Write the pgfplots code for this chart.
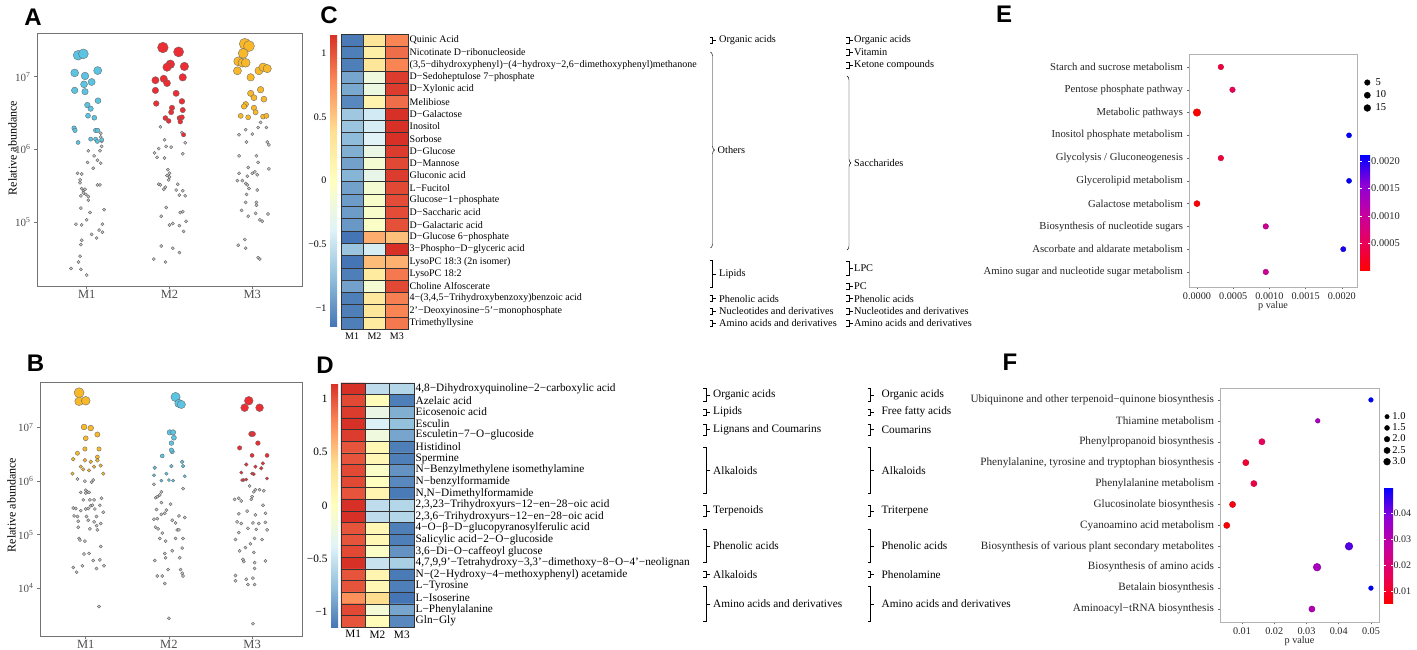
\documentclass[border=0pt]{standalone}
\usepackage{fontspec}
\setmainfont{Liberation Serif}
\newfontfamily\panelfont{Liberation Sans}
\usepackage{pgfplots}
\pgfplotsset{compat=1.18}
\usetikzlibrary{decorations.pathreplacing}

\definecolor{cyanA}{RGB}{90,196,226}
\definecolor{redA}{RGB}{236,45,52}
\definecolor{orgA}{RGB}{249,184,42}
\definecolor{greyP}{RGB}{198,198,198}
\definecolor{txtg}{RGB}{77,77,77}

\newcommand{\lab}{\fontsize{10}{12}\selectfont}
\newcommand{\labD}{\fontsize{11.3}{12}\selectfont}
\def\lgap{6}
\def\gfont{\lab}
\newcommand{\sq}[4]{%
  \draw[line width=0.45pt] (#1-3,#2) -- (#1,#2) -- (#1,#3) -- (#1-3,#3);
  \draw[line width=0.45pt] (#1,{(#2+#3)/2}) -- (#1+3.5,{(#2+#3)/2});
  \node[anchor=west,inner sep=0pt,font=\gfont] at (#1+\lgap,{(#2+#3)/2}) {#4};}
\newcommand{\cb}[4]{%
  \draw[line width=0.45pt,decorate,decoration={brace,amplitude=4pt}] (#1-2,#2) -- (#1-2,#3);
  \node[anchor=west,inner sep=0pt,font=\gfont] at (#1+5,{(#2+#3)/2}) {#4};}

\pgfplotsset{
  colorbar shift/.style={},
  colormap={rb}{rgb255=(255,0,0) rgb255=(232,0,92) rgb255=(196,0,162) rgb255=(140,0,216) rgb255=(0,0,255)},
  colormap={rdylbu}{rgb255=(69,117,180) rgb255=(145,191,219) rgb255=(224,243,248) rgb255=(255,255,191) rgb255=(254,224,144) rgb255=(252,141,89) rgb255=(215,48,39)},
  abund/.style={scale only axis, xmin=0.4, xmax=3.6, xtick={1,2,3}, xticklabels={M1,M2,M3},
    axis line style={draw=black!55, line width=0.6pt}, tick style={draw=black!55, line width=0.5pt},
    tick align=outside, major tick length=3pt, xtick pos=left, ytick pos=left,
    yticklabel style={font=\fontsize{11}{12}\selectfont, text=txtg},
    xticklabel style={font=\fontsize{12.5}{13}\selectfont, text=txtg, inner sep=1.5pt},
    ylabel={Relative abundance}, ylabel style={font=\fontsize{12}{13}\selectfont, anchor=center}},
  greypt/.style={only marks, mark=*, mark size=1.6pt, mark options={fill=greyP, draw=black!65, line width=0.35pt}},
  colpt/.style 2 args={only marks, scatter, mark=*, point meta=y,
    visualization depends on={\thisrow{y}\as\rawy},
    scatter/use mapped color={draw=black!60, fill=#1},
    mark options={line width=0.35pt},
    scatter/@pre marker code/.append style={/tikz/mark size={#2}}},
  heat/.style={scale only axis, xmin=0.5, xmax=3.5, y dir=reverse,
    colormap name=rdylbu, point meta min=-1.15, point meta max=1.15,
    xtick={0.5,1.5,2.5,3.5}, xticklabels={}, yticklabels={},
    grid=major, major grid style={draw=black!80, line width=0.4pt},
    axis line style={draw=black!80, line width=0.4pt}, tick style={draw=none}, major tick length=0pt,
    axis on top, extra x ticks={1,2,3}, extra x tick labels={M1,M2,M3}, extra x tick style={grid=none},
    extra y tick style={grid=none}, yticklabel pos=right,
    ticklabel style={font=\lab}, yticklabel style={inner sep=1.5pt}, clip=false},
  pathw/.style={scale only axis, y dir=reverse, tick align=outside, major tick length=2.5pt,
    xtick pos=left, ytick pos=left, axis line style={draw=black!30, line width=0.6pt},
    tick style={draw=black!60, line width=0.4pt},
    xticklabel style={font=\fontsize{10.2}{12}\selectfont, text=black!85},
    xlabel={p value}, xlabel style={font=\fontsize{10.2}{12}\selectfont, text=black!85, yshift=5pt},
    scaled x ticks=false, colormap name=rb, legend cell align=left},
}

\begin{document}
\begin{tikzpicture}
\path[use as bounding box] (0,0) rectangle (1417pt,650pt);

% ---------------- Panel A ----------------
\begin{axis}[abund, width=265pt, height=253pt, at={(37pt,364pt)}, anchor=south west,
  ymin=4.12, ymax=7.60, ytick={5,6,7},
  yticklabels={10\textsuperscript{5},10\textsuperscript{6},10\textsuperscript{7}},
  ylabel style={at={(axis description cs:-0.092,0.545)}}]
\addplot[greypt] table[row sep=\\]{x y\\
1.17 6.22\\1.17 6.17\\1.18 6.11\\1.18 6.04\\1.02 5.98\\1.16 5.98\\1.09 5.91\\1.01 5.82\\1.13 5.85\\1.17 5.81\\1.08 5.74\\0.89 5.67\\0.94 5.66\\0.92 5.58\\0.92 5.54\\1.13 5.51\\1.16 5.51\\0.94 5.46\\0.96 5.43\\0.98 5.45\\0.96 5.40\\0.93 5.36\\0.99 5.38\\1.02 5.35\\1.02 5.30\\0.93 5.19\\1.21 5.17\\1.04 5.13\\0.87 4.97\\1.00 5.03\\0.94 4.96\\1.19 4.97\\1.15 4.89\\1.06 4.83\\1.19 4.86\\1.12 4.78\\0.94 4.75\\0.93 4.69\\0.92 4.53\\0.90 4.45\\0.81 4.36\\0.93 4.35\\1.00 4.27\\
1.89 6.31\\2.15 6.23\\1.94 6.13\\1.87 6.01\\1.96 6.04\\2.02 6.03\\2.19 6.09\\1.82 5.95\\1.85 5.89\\1.94 5.88\\2.16 5.94\\1.98 5.72\\2.00 5.67\\1.97 5.64\\2.00 5.62\\1.87 5.52\\1.89 5.51\\1.99 5.58\\1.95 5.48\\1.93 5.45\\2.10 5.52\\2.08 5.44\\2.16 5.43\\2.12 5.37\\2.19 5.36\\1.96 5.20\\2.13 5.13\\2.16 5.14\\1.90 5.08\\2.04 4.98\\2.00 4.96\\2.20 5.01\\2.12 4.95\\2.17 4.87\\1.90 4.67\\2.04 4.64\\2.12 4.58\\1.81 4.49\\1.95 4.45\\
3.10 6.37\\2.92 6.27\\3.07 6.30\\3.17 6.30\\2.84 6.20\\3.00 6.21\\2.93 6.10\\3.18 6.10\\3.20 6.06\\2.84 5.91\\3.05 5.91\\3.07 5.82\\2.95 5.75\\3.20 5.73\\2.84 5.67\\2.94 5.63\\3.03 5.69\\3.00 5.67\\3.06 5.65\\2.82 5.57\\2.92 5.53\\2.94 5.51\\2.88 5.57\\2.96 5.46\\3.06 5.44\\2.93 5.38\\2.92 5.27\\3.05 5.27\\3.05 5.23\\2.87 5.16\\3.04 5.12\\2.95 5.08\\3.19 5.11\\3.09 5.03\\3.12 5.01\\2.83 4.68\\2.91 4.76\\2.92 4.64\\3.07 4.51\\3.09 4.49\\};
\addplot[colpt={cyanA}{1.1+0.85*10^(\rawy/2-3)}] table[row sep=\\]{x y\\
0.896 7.294\\0.960 7.313\\0.855 7.051\\0.980 7.009\\1.133 7.083\\0.968 6.894\\1.060 6.926\\0.855 6.811\\0.980 6.793\\1.137 6.669\\1.008 6.609\\1.048 6.559\\1.016 6.462\\1.092 6.434\\0.847 6.292\\0.859 6.260\\1.108 6.260\\1.133 6.260\\0.896 6.094\\1.048 6.140\\1.108 6.140\\1.129 6.108\\1.181 6.131\\};
\addplot[colpt={redA}{1.1+0.85*10^(\rawy/2-3)}] table[row sep=\\]{x y\\
1.92 7.40\\2.11 7.34\\2.01 7.17\\1.97 7.13\\2.18 7.14\\1.83 6.95\\1.93 6.97\\1.97 6.91\\2.16 6.99\\1.83 6.81\\2.08 6.77\\1.84 6.63\\2.15 6.66\\2.03 6.57\\2.02 6.51\\2.16 6.54\\1.95 6.43\\1.99 6.39\\2.12 6.43\\2.15 6.44\\2.13 6.38\\2.17 6.20\\};
\addplot[colpt={orgA}{1.1+0.85*10^(\rawy/2-3)}] table[row sep=\\]{x y\\
2.91 7.45\\2.96 7.42\\2.89 7.32\\2.83 7.21\\2.88 7.19\\2.92 7.19\\2.82 7.08\\3.08 7.08\\3.13 7.13\\3.18 7.11\\2.98 6.99\\3.10 6.82\\2.98 6.77\\3.02 6.71\\3.14 6.69\\2.92 6.62\\2.90 6.59\\3.02 6.57\\3.04 6.51\\2.86 6.46\\2.95 6.44\\3.13 6.45\\3.17 6.46\\};
\end{axis}

% ---------------- Panel B ----------------
\begin{axis}[abund, width=262pt, height=254pt, at={(40pt,14pt)}, anchor=south west,
  xmin=0.45, ymin=3.11, ymax=7.85, ytick={4,5,6,7},
  yticklabels={10\textsuperscript{4},10\textsuperscript{5},10\textsuperscript{6},10\textsuperscript{7}},
  ylabel style={at={(axis description cs:-0.109,0.516)}}]
\addplot[greypt] table[row sep=\\]{x y\\
0.90 6.04\\0.99 6.00\\1.07 5.98\\1.09 6.02\\0.94 5.79\\1.00 5.83\\1.02 5.80\\1.04 5.79\\1.00 5.78\\0.97 5.65\\1.05 5.65\\1.10 5.65\\1.19 5.68\\1.17 5.55\\0.85 5.50\\0.88 5.49\\0.94 5.45\\1.00 5.48\\1.03 5.49\\1.06 5.54\\1.08 5.55\\1.11 5.48\\1.21 5.42\\0.86 5.35\\0.90 5.34\\0.91 5.25\\1.01 5.34\\1.03 5.27\\1.10 5.24\\1.13 5.34\\1.18 5.21\\0.91 5.14\\1.05 5.11\\1.13 5.17\\1.14 5.09\\0.92 4.93\\0.93 4.90\\0.99 4.88\\1.18 4.78\\0.98 4.64\\1.04 4.65\\1.09 4.52\\1.17 4.53\\0.85 4.39\\0.89 4.30\\0.96 4.42\\1.13 4.37\\1.22 4.42\\1.16 3.66\\
1.82 5.94\\2.17 5.86\\1.91 5.80\\1.89 5.74\\1.84 5.69\\1.86 5.71\\1.91 5.60\\2.02 5.57\\1.85 5.47\\1.97 5.46\\1.91 5.38\\1.95 5.40\\2.12 5.35\\2.04 5.27\\1.82 5.29\\1.86 5.30\\2.19 5.32\\2.08 5.22\\1.84 5.14\\1.87 5.11\\2.10 5.09\\2.12 5.09\\1.92 5.03\\1.89 4.93\\2.08 4.93\\1.96 4.88\\2.17 4.93\\1.95 4.65\\2.04 4.70\\2.16 4.75\\1.96 4.57\\2.13 4.57\\1.83 4.52\\1.99 4.35\\1.86 4.23\\1.92 4.23\\2.14 4.35\\2.16 4.28\\2.17 4.23\\1.95 4.09\\2.00 3.44\\
2.97 5.91\\3.09 5.84\\3.14 5.82\\3.02 5.80\\3.04 5.84\\2.79 5.66\\2.84 5.68\\2.87 5.63\\2.99 5.66\\3.00 5.71\\3.13 5.55\\2.84 5.39\\2.94 5.44\\3.04 5.37\\3.16 5.40\\2.82 5.24\\2.87 5.21\\3.01 5.22\\3.08 5.21\\3.16 5.23\\2.95 5.12\\3.05 5.10\\3.18 5.09\\2.84 5.04\\3.03 4.93\\2.80 4.91\\3.12 4.91\\2.92 4.76\\2.85 4.70\\2.98 4.83\\3.02 4.67\\2.89 4.54\\2.90 4.50\\3.03 4.48\\3.16 4.51\\3.03 4.37\\2.80 4.24\\2.80 4.14\\2.93 4.17\\3.01 4.19\\2.95 4.07\\3.03 4.07\\3.01 3.34\\};
\addplot[colpt={orgA}{1.0+0.6*10^(\rawy/2-3)}] table[row sep=\\]{x y\\
0.92 7.65\\0.92 7.49\\1.00 7.50\\0.98 7.01\\1.06 6.99\\1.00 6.80\\1.14 6.87\\0.90 6.52\\0.99 6.60\\1.16 6.60\\0.85 6.41\\0.99 6.39\\1.14 6.45\\1.14 6.39\\1.06 6.36\\0.94 6.27\\0.97 6.22\\1.10 6.27\\1.18 6.29\\0.84 6.14\\1.04 6.20\\1.21 6.14\\};
\addplot[colpt={cyanA}{1.0+0.6*10^(\rawy/2-3)}] table[row sep=\\]{x y\\
2.08 7.57\\2.12 7.45\\2.15 7.43\\2.01 6.91\\2.05 6.91\\2.06 6.81\\2.03 6.71\\1.92 6.47\\2.04 6.55\\2.03 6.58\\1.83 6.25\\2.03 6.28\\2.16 6.36\\2.17 6.28\\1.82 6.11\\1.97 6.14\\1.91 6.01\\2.00 6.02\\2.05 6.01\\2.19 6.09\\};
\addplot[colpt={redA}{1.0+0.6*10^(\rawy/2-3)}] table[row sep=\\]{x y\\
2.96 7.50\\2.91 7.37\\3.09 7.37\\2.99 6.88\\3.01 6.88\\3.07 6.71\\2.85 6.62\\3.00 6.48\\3.18 6.48\\2.93 6.31\\3.04 6.27\\3.13 6.33\\2.87 6.16\\3.00 6.14\\3.02 6.13\\2.90 6.02\\2.93 6.03\\2.88 6.02\\3.11 6.24\\3.18 6.05\\};
\end{axis}

% ---------------- Panel C heatmap ----------------
\begin{axis}[heat, width=67pt, height=295.3pt, at={(341pt,320.7pt)}, anchor=south west,
  ymin=0.5, ymax=24.5, ytick={0.5,1.5,...,24.5},
  extra y ticks={1,...,24},
  extra y tick labels={{Quinic Acid},{Nicotinate D−ribonucleoside},{(3,5−dihydroxyphenyl)−(4−hydroxy−2,6−dimethoxyphenyl)methanone},{D−Sedoheptulose 7−phosphate},{D−Xylonic acid},{Melibiose},{D−Galactose},{Inositol},{Sorbose},{D−Glucose},{D−Mannose},{Gluconic acid},{L−Fucitol},{Glucose−1−phosphate},{D−Saccharic acid},{D−Galactaric acid},{D−Glucose 6−phosphate},{3−Phospho−D−glyceric acid},{LysoPC 18:3 (2n isomer)},{LysoPC 18:2},{Choline Alfoscerate},{4−(3,4,5−Trihydroxybenzoxy)benzoic acid},{2'−Deoxyinosine−5'−monophosphate},{Trimethyllysine}},
  colorbar, colorbar style={at={(parent axis.north west)}, anchor=north east, xshift=-4pt,
    scale only axis, width=7pt, height=293pt, ytick={-1,-0.5,0,0.5,1},
    yticklabels={−1,−0.5,0,0.5,1}, yticklabel pos=left, axis line style={draw=none},
    tick style={draw=none}, yticklabel style={font=\lab}}]
\addplot[matrix plot*, mesh/cols=3, point meta=explicit] table[row sep=\\, meta=c]{x y c\\
1 1 -1.12\\2 1 0.32\\3 1 0.80\\
1 2 -1.10\\2 2 0.20\\3 2 0.90\\
1 3 -1.10\\2 3 0.30\\3 3 0.80\\
1 4 -0.90\\2 4 -0.20\\3 4 1.10\\
1 5 -0.88\\2 5 -0.22\\3 5 1.10\\
1 6 -1.05\\2 6 0.15\\3 6 0.90\\
1 7 -0.70\\2 7 -0.45\\3 7 1.15\\
1 8 -0.72\\2 8 -0.43\\3 8 1.15\\
1 9 -0.78\\2 9 -0.37\\3 9 1.15\\
1 10 -0.85\\2 10 -0.25\\3 10 1.10\\
1 11 -0.92\\2 11 -0.13\\3 11 1.05\\
1 12 -0.82\\2 12 -0.28\\3 12 1.10\\
1 13 -0.92\\2 13 -0.13\\3 13 1.05\\
1 14 -0.95\\2 14 -0.08\\3 14 1.03\\
1 15 -0.95\\2 15 -0.08\\3 15 1.03\\
1 16 -0.97\\2 16 -0.05\\3 16 1.02\\
1 17 -1.15\\2 17 0.62\\3 17 0.53\\
1 18 -0.72\\2 18 -0.43\\3 18 1.15\\
1 19 -1.15\\2 19 0.55\\3 19 0.60\\
1 20 -1.10\\2 20 0.25\\3 20 0.85\\
1 21 -0.92\\2 21 -0.13\\3 21 1.05\\
1 22 -1.10\\2 22 0.28\\3 22 0.82\\
1 23 -1.10\\2 23 0.30\\3 23 0.80\\
1 24 -1.10\\2 24 0.25\\3 24 0.85\\};
\end{axis}

% ---------------- Panel D heatmap ----------------
\begin{axis}[heat, width=73pt, height=244pt, at={(341pt,23pt)}, anchor=south west,
  ymin=0.5, ymax=21.5, ytick={0.5,1.5,...,21.5},
  ticklabel style={font=\labD},
  extra y ticks={1,...,21},
  extra y tick labels={{4,8−Dihydroxyquinoline−2−carboxylic acid},{Azelaic acid},{Eicosenoic acid},{Esculin},{Esculetin−7−O−glucoside},{Histidinol},{Spermine},{N−Benzylmethylene isomethylamine},{N−benzylformamide},{N,N−Dimethylformamide},{2,3,23−Trihydroxyurs−12−en−28−oic acid},{2,3,6−Trihydroxyurs−12−en−28−oic acid},{4−O−β−D−glucopyranosylferulic acid},{Salicylic acid−2−O−glucoside},{3,6−Di−O−caffeoyl glucose},{4,7,9,9'−Tetrahydroxy−3,3'−dimethoxy−8−O−4'−neolignan},{N−(2−Hydroxy−4−methoxyphenyl) acetamide},{L−Tyrosine},{L−Isoserine},{L−Phenylalanine},{Gln−Gly}},
  colorbar, colorbar style={at={(parent axis.north west)}, anchor=north east, xshift=-3pt,
    scale only axis, width=7pt, height=245pt, ytick={-1,-0.5,0,0.5,1},
    yticklabels={−1,−0.5,0,0.5,1}, yticklabel pos=left, axis line style={draw=none},
    tick style={draw=none}, yticklabel style={font=\labD}}]
\addplot[matrix plot*, mesh/cols=3, point meta=explicit] table[row sep=\\, meta=c]{x y c\\
1 1 1.15\\2 1 -0.55\\3 1 -0.60\\
1 2 1.05\\2 2 0.05\\3 2 -1.10\\
1 3 1.10\\2 3 -0.25\\3 3 -0.85\\
1 4 1.15\\2 4 -0.40\\3 4 -0.75\\
1 5 1.10\\2 5 -0.20\\3 5 -0.90\\
1 6 1.00\\2 6 0.10\\3 6 -1.10\\
1 7 1.00\\2 7 0.10\\3 7 -1.10\\
1 8 1.05\\2 8 -0.05\\3 8 -1.00\\
1 9 1.05\\2 9 0.00\\3 9 -1.05\\
1 10 1.00\\2 10 0.12\\3 10 -1.12\\
1 11 1.15\\2 11 -0.55\\3 11 -0.60\\
1 12 1.15\\2 12 -0.55\\3 12 -0.60\\
1 13 1.00\\2 13 0.10\\3 13 -1.10\\
1 14 1.00\\2 14 0.10\\3 14 -1.10\\
1 15 1.05\\2 15 -0.05\\3 15 -1.00\\
1 16 1.15\\2 16 -0.50\\3 16 -0.65\\
1 17 1.00\\2 17 0.12\\3 17 -1.12\\
1 18 1.00\\2 18 0.10\\3 18 -1.10\\
1 19 0.75\\2 19 0.40\\3 19 -1.15\\
1 20 1.05\\2 20 -0.15\\3 20 -0.90\\
1 21 1.00\\2 21 0.05\\3 21 -1.05\\};
\end{axis}

% ---------------- Panel E ----------------
\begin{axis}[pathw, width=168pt, height=233pt, at={(1189pt,363pt)}, anchor=south west,
  xmin=-0.00011, xmax=0.00221, ymin=0.43, ymax=10.66,
  yticklabel style={font=\fontsize{10.7}{12}\selectfont, text=black!85},
  ytick={1,...,10},
  yticklabels={{Starch and sucrose metabolism},{Pentose phosphate pathway},{Metabolic pathways},{Inositol phosphate metabolism},{Glycolysis / Gluconeogenesis},{Glycerolipid metabolism},{Galactose metabolism},{Biosynthesis of nucleotide sugars},{Ascorbate and aldarate metabolism},{Amino sugar and nucleotide sugar metabolism}},
  xtick={0,0.0005,0.001,0.0015,0.002}, xticklabels={0.0000,0.0005,0.0010,0.0015,0.0020},
  point meta min=0, point meta max=0.00211,
  legend style={draw=none, fill=none, at={(1.040,0.905)}, anchor=north west,
    font=\fontsize{10.5}{10}\selectfont, inner sep=0pt, row sep=0.3pt},
  colorbar, colorbar style={at={(parent axis.south east)}, anchor=south west, xshift=3pt, yshift=16pt,
    scale only axis, width=10pt, height=116pt, ytick={0.0005,0.001,0.0015,0.002},
    yticklabels={0.0005,0.0010,0.0015,0.0020}, scaled y ticks=false, axis line style={draw=none},
    tick style={draw=white, line width=0.7pt}, major tick length=2pt,
    yticklabel style={font=\fontsize{10.4}{12}\selectfont, text=black!85, inner sep=1pt}}]
\addplot[scatter, only marks, mark=*, point meta=x, forget plot,
  visualization depends on={\thisrow{n}\as\nn},
  scatter/@pre marker code/.append style={/tikz/mark size={2.4+0.08*\nn}}]
  table[row sep=\\, x=p, y=y]{p y n\\
0.00033 1 5\\0.00049 2 5\\0.00000 3 17\\0.00210 4 2\\0.00033 5 5\\0.00210 6 2\\0.00000 7 8\\0.00095 8 5\\0.00202 9 3\\0.00095 10 5\\};
\addlegendimage{only marks, mark=*, mark size=2.8pt, black}\addlegendentry{\hspace{3pt}5}
\addlegendimage{only marks, mark=*, mark size=3.1pt, black}\addlegendentry{\hspace{3pt}10}
\addlegendimage{only marks, mark=*, mark size=3.4pt, black}\addlegendentry{\hspace{3pt}15}
\end{axis}

% ---------------- Panel F ----------------
\begin{axis}[pathw, width=159pt, height=234pt, at={(1220pt,28pt)}, anchor=south west,
  xmin=0.0032, xmax=0.0525, ymin=0.43, ymax=11.62,
  yticklabel style={font=\fontsize{11.2}{12}\selectfont, text=black!85},
  ytick={1,...,11},
  yticklabels={{Ubiquinone and other terpenoid−quinone biosynthesis},{Thiamine metabolism},{Phenylpropanoid biosynthesis},{Phenylalanine, tyrosine and tryptophan biosynthesis},{Phenylalanine metabolism},{Glucosinolate biosynthesis},{Cyanoamino acid metabolism},{Biosynthesis of various plant secondary metabolites},{Biosynthesis of amino acids},{Betalain biosynthesis},{Aminoacyl−tRNA biosynthesis}},
  xtick={0.01,0.02,0.03,0.04,0.05}, xticklabels={0.01,0.02,0.03,0.04,0.05},
  point meta min=0.0053, point meta max=0.0499,
  legend style={draw=none, fill=none, at={(1.028,0.905)}, anchor=north west,
    font=\fontsize{10.5}{10}\selectfont, inner sep=0pt, row sep=-1.2pt},
  colorbar, colorbar style={at={(parent axis.south east)}, anchor=south west, xshift=5pt, yshift=18pt,
    scale only axis, width=9pt, height=117pt, ytick={0.01,0.02,0.03,0.04},
    yticklabels={0.01,0.02,0.03,0.04}, scaled y ticks=false, axis line style={draw=none},
    tick style={draw=white, line width=0.7pt}, major tick length=2pt,
    yticklabel style={font=\fontsize{10}{12}\selectfont, text=black!85, inner sep=0.5pt}}]
\addplot[scatter, only marks, mark=*, point meta=x, forget plot,
  visualization depends on={\thisrow{n}\as\nn},
  scatter/@pre marker code/.append style={/tikz/mark size={1.6+0.75*\nn}}]
  table[row sep=\\, x=p, y=y]{p y n\\
0.0500 1 1\\0.0335 2 1\\0.0162 3 2\\0.0112 4 2\\0.0137 5 2\\0.0071 6 2\\0.0053 7 2\\0.0432 8 3\\0.0333 9 3\\0.0500 10 1\\0.0317 11 2\\};
\addlegendimage{only marks, mark=*, mark size=2.2pt, black}\addlegendentry{1.0}
\addlegendimage{only marks, mark=*, mark size=2.5pt, black}\addlegendentry{1.5}
\addlegendimage{only marks, mark=*, mark size=2.8pt, black}\addlegendentry{2.0}
\addlegendimage{only marks, mark=*, mark size=3.1pt, black}\addlegendentry{2.5}
\addlegendimage{only marks, mark=*, mark size=3.4pt, black}\addlegendentry{3.0}
\end{axis}

% ---------------- annotations in pixel coordinates ----------------
\begin{scope}[x=1pt,y=-1pt,yshift=650pt]
\tikzset{pl/.style={font=\panelfont\bfseries\fontsize{24}{24}\selectfont, inner sep=0pt}}
\node[pl] at (33,17) {A};
\node[pl] at (35.5,363) {B};
\node[pl] at (329,15) {C};
\node[pl] at (325,365) {D};
\node[pl] at (1004,14) {E};
\node[pl] at (1010,362) {F};
% C group columns
\def\gfont{\fontsize{10.3}{12}\selectfont}
\def\lgap{6.5}
\sq{712.5}{37}{43.2}{Organic acids}
\cb{712.5}{52}{248}{Others}
\sq{712.5}{260.5}{287}{Lipids}
\sq{712.5}{295.5}{301.5}{Phenolic acids}
\sq{712.5}{307.8}{313.8}{Nucleotides and derivatives}
\sq{712.5}{320.1}{326.1}{Amino acids and derivatives}
\def\lgap{5}
\sq{849}{37}{43.2}{Organic acids}
\sq{849}{49.5}{55.5}{Vitamin}
\sq{849}{61.8}{67.8}{Ketone compounds}
\cb{849}{76}{250}{Saccharides}
\sq{849}{261}{275}{LPC}
\sq{849}{283.2}{289.2}{PC}
\sq{849}{295.5}{301.5}{Phenolic acids}
\sq{849}{307.8}{313.8}{Nucleotides and derivatives}
\sq{849}{320.1}{326.1}{Amino acids and derivatives}
% D group columns
\def\gfont{\labD}
\def\lgap{7}
\sq{706}{388.5}{401}{Organic acids}
\sq{706}{409.1}{415.1}{Lipids}
\sq{706}{424}{435}{Lignans and Coumarins}
\sq{706}{447}{493.5}{Alkaloids}
\sq{706}{505.5}{516}{Terpenoids}
\sq{706}{529}{562.5}{Phenolic acids}
\sq{706}{571.7}{577.7}{Alkaloids}
\sq{706}{586.5}{621.5}{Amino acids and derivatives}
\def\lgap{11}
\sq{870.5}{388.5}{401}{Organic acids}
\sq{870.5}{409.1}{415.1}{Free fatty acids}
\sq{870.5}{424}{435}{Coumarins}
\sq{870.5}{447}{493.5}{Alkaloids}
\sq{870.5}{505.5}{516}{Triterpene}
\sq{870.5}{529}{562.5}{Phenolic acids}
\sq{870.5}{571.7}{577.7}{Phenolamine}
\sq{870.5}{586.5}{621.5}{Amino acids and derivatives}
\end{scope}
\end{tikzpicture}
\end{document}
